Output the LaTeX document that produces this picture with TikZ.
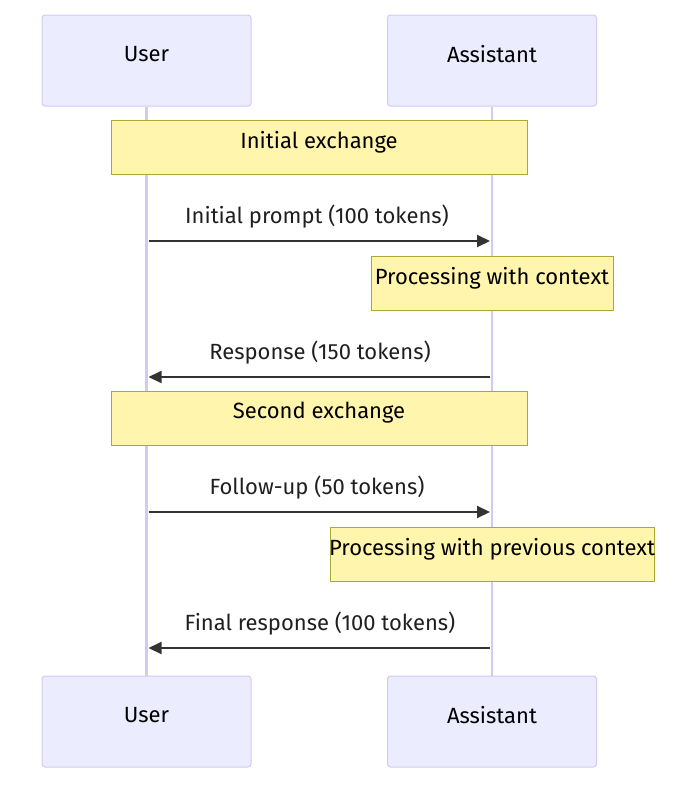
\documentclass[tikz,border=0pt]{standalone}
\usepackage{fontspec}
\setmainfont{Fira Sans}
\usetikzlibrary{arrows.meta}
\definecolor{actfill}{HTML}{ECECFF}
\definecolor{actline}{HTML}{D3C9F4}
\definecolor{notefill}{HTML}{FFF5AD}
\definecolor{noteline}{HTML}{AAAA33}
\definecolor{msg}{HTML}{333333}
\tikzset{
  x=1pt,y=-1pt,
  actor/.style={draw=actline,fill=actfill,rounded corners=3pt,line width=1pt,minimum width=209pt,minimum height=91pt,inner sep=0pt},
  note/.style={draw=noteline,fill=notefill,line width=1pt,minimum height=54pt,inner sep=0pt},
  txt/.style={font=\fontsize{22}{26}\selectfont,text=black,inner sep=0pt},
  life/.style={actline,line width=2.5pt},
  msgline/.style={msg,line width=2pt,-{Triangle[length=13pt,width=12pt]}},
  msglabel/.style={font=\fontsize{22}{26}\selectfont,text=black!88,inner sep=0pt}
}
\begin{document}
\begin{tikzpicture}
\useasboundingbox (0,0) rectangle (700,785);
\node[actor] (ut) at (146.5,60.5) {};
\node[actor] (at) at (492,60.5) {};
\node[actor] (ub) at (146.5,721.5) {};
\node[actor] (ab) at (492,721.5) {};
\node[txt] (utt) at (146.5,54) {User};
\node[txt] (att) at (492,54) {Assistant};
\node[txt] (ubt) at (146.5,715) {User};
\node[txt] (abt) at (492,715) {Assistant};
\draw[life] (ut.south) -- (ub.north);
\draw[life] (at.south) -- (ab.north);
\node[note,minimum width=416pt] (n1) at (319,147) {};
\node[txt] (n1t) at (319,142) {Initial exchange};
\coordinate (m1s) at (148.5,241);
\coordinate (m1e) at (490,241);
\draw[msgline] (m1s) -- (m1e);
\node[msglabel] (l1) at (317,217) {Initial prompt (100 tokens)};
\node[note,minimum width=242pt] (n2) at (492,283) {};
\node[txt] (n2t) at (492,278) {Processing with context};
\coordinate (m2s) at (490,377);
\coordinate (m2e) at (148.5,377);
\draw[msgline] (m2s) -- (m2e);
\node[msglabel] (l2) at (320,353) {Response (150 tokens)};
\node[note,minimum width=416pt] (n3) at (319,418) {};
\node[txt] (n3t) at (319,413) {Second exchange};
\coordinate (m3s) at (148.5,512);
\coordinate (m3e) at (490,512);
\draw[msgline] (m3s) -- (m3e);
\node[msglabel] (l3) at (317,488) {Follow-up (50 tokens)};
\node[note,minimum width=324pt] (n4) at (492,554) {};
\node[txt] (n4t) at (492,549) {Processing with previous context};
\coordinate (m4s) at (490,648);
\coordinate (m4e) at (148.5,648);
\draw[msgline] (m4s) -- (m4e);
\node[msglabel] (l4) at (320,624) {Final response (100 tokens)};
\end{tikzpicture}
\end{document}
